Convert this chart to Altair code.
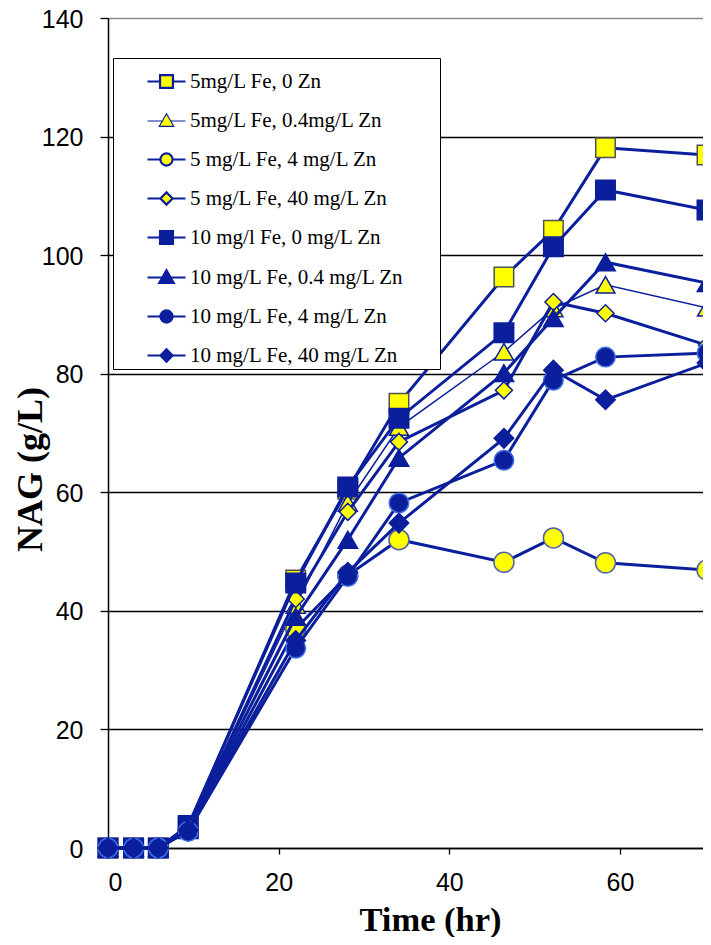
import altair as alt
import pandas as pd

# ---------------- data ----------------
times = [0, 3.0, 5.9, 9.4, 22.0, 28.1, 34.1, 46.4, 52.2, 58.3, 70.2]

names = [
    "5mg/L Fe, 0 Zn",
    "5mg/L Fe, 0.4mg/L Zn",
    "5 mg/L Fe, 4 mg/L Zn",
    "5 mg/L Fe, 40 mg/L Zn",
    "10 mg/l Fe, 0 mg/L Zn",
    "10 mg/L Fe, 0.4 mg/L Zn",
    "10 mg/L Fe, 4 mg/L Zn",
    "10 mg/L Fe, 40 mg/L Zn",
]

s1 = [0, 0, 0, 3.5, 45.2, 60.5, 75.0, 96.3, 104.2, 118.1, 116.9]
s2 = [0, 0, 0, 3.0, 41.0, 58.2, 71.0, 83.7, 91.0, 95.0, 91.1]
s3 = [0, 0, 0, 3.0, 37.0, 46.0, 52.0, 48.2, 52.3, 48.1, 46.9]
s4 = [0, 0, 0, 3.2, 42.0, 56.7, 68.5, 77.2, 92.1, 90.2, 84.8]
s5 = [0, 0, 0, 3.8, 44.7, 60.9, 72.5, 86.9, 101.4, 111.0, 107.6]
s6 = [0, 0, 0, 3.2, 39.0, 52.0, 65.8, 80.1, 89.4, 98.8, 95.3]
s7 = [0, 0, 0, 2.8, 33.7, 45.8, 58.2, 65.4, 78.9, 82.8, 83.5]
s8 = [0, 0, 0, 3.0, 35.0, 46.5, 54.8, 69.1, 80.6, 75.6, 81.8]
series_values = [s1, s2, s3, s4, s5, s6, s7, s8]

x_ticks = [0, 20, 40, 60]
y_ticks = [0, 20, 40, 60, 80, 100, 120, 140]

# ---------------- styles ----------------
NAVY = "#0B1F9C"
YEL = "#FFFF00"
shapes = ["square", "triangle-up", "circle", "diamond",
          "square", "triangle-up", "circle", "diamond"]
fills = [YEL, YEL, YEL, YEL, NAVY, NAVY, NAVY, NAVY]
edges = ["#505050", NAVY, "#5060A8", NAVY, NAVY, NAVY, "#3F6FE6", NAVY]
sizes = [380, 360, 400, 290, 380, 380, 380, 380]
line_w = [3, 1.5, 3, 3, 3, 3, 3, 3]

# legend symbols: line segment + marker (unit coords, scaled by sqrt(size)/2);
# the trailing move-to widens the legend frame to the right
EXT = "M14.0,0"
leg_paths = [
    "M-1,0H-0.34M0.34,0H1M-0.34,-0.34H0.34V0.34H-0.34Z" + EXT,
    "M-1,0H-0.2M0.2,0H1M0,-0.38L0.38,0.28H-0.38Z" + EXT,
    "M-1,0H-0.32M0.32,0H1M-0.32,0A0.32,0.32,0,1,0,0.32,0A0.32,0.32,0,1,0,-0.32,0Z" + EXT,
    "M-1,0H-0.32M0.32,0H1M-0.32,0L0,-0.32L0.32,0L0,0.32Z" + EXT,
    "M-1,0H-0.34M0.34,0H1M-0.34,-0.34H0.34V0.34H-0.34Z" + EXT,
    "M-1,0H-0.2M0.2,0H1M0,-0.38L0.38,0.28H-0.38Z" + EXT,
    "M-1,0H-0.32M0.32,0H1M-0.32,0A0.32,0.32,0,1,0,0.32,0A0.32,0.32,0,1,0,-0.32,0Z" + EXT,
    "M-1,0H-0.32M0.32,0H1M-0.32,0L0,-0.32L0.32,0L0,0.32Z" + EXT,
]
leg_stroke_w = [2.2, 1.2, 2.2, 2.2, 2.2, 2.2, 2.2, 2.2]

rows = []
for i, (nm, vals) in enumerate(zip(names, series_values)):
    for t, v in zip(times, vals):
        rows.append({"idx": i, "series": nm, "time": t, "nag": v})
df = pd.DataFrame(rows)

# plot area: 595 px wide at 8.533 px per hour
x_scale = alt.Scale(domain=[0, 69.73], nice=False, zero=False)
y_scale = alt.Scale(domain=[0, 140], nice=False)

x_axis = alt.Axis(
    values=x_ticks, grid=False, tickSize=6, tickColor="black", domainColor="black",
    tickWidth=1.3, domainWidth=1.5,
    labelFont="Liberation Sans", labelFontSize=25, labelColor="black", labelPadding=16,
    title="Time (hr)", titleFont="Liberation Serif", titleFontSize=34.5,
    titleFontWeight="bold", titleColor="black", titleX=322, titleY=82,
    titleBaseline="alphabetic", titleAlign="center",
)
y_axis = alt.Axis(
    values=y_ticks, grid=True,
    gridColor=alt.condition(alt.datum.value == 140, alt.value("#8a8a8a"), alt.value("black")),
    gridWidth=1.3, tickSize=8, tickColor="black", domainColor="black",
    tickWidth=1.3, domainWidth=1.5,
    labelFont="Liberation Sans", labelFontSize=25, labelColor="black", labelPadding=17,
    labelBaseline="alphabetic", labelOffset=9,
    title="NAG (g/L)", titleFont="Liberation Serif", titleFontSize=36,
    titleFontWeight="bold", titleColor="black", titleX=-67, titleY=451,
    titleBaseline="alphabetic", titleAlign="center", titleAngle=270,
)

X = alt.X("time:Q", scale=x_scale, axis=x_axis)
Y = alt.Y("nag:Q", scale=y_scale, axis=y_axis)

base = alt.Chart(df)
layers = []
for i in range(len(names)):
    sub = base.transform_filter(alt.datum.idx == i)
    line = sub.mark_line(color=NAVY, strokeWidth=line_w[i]).encode(x=X, y=Y)
    pts = sub.mark_point(
        shape=shapes[i], filled=True, fill=fills[i], stroke=edges[i],
        strokeWidth=1.5, size=sizes[i], opacity=1,
    ).encode(x=X, y=Y)
    layers += [line, pts]

legend = alt.Legend(
    title=None, orient="none", legendX=5, legendY=40,
    symbolSize=1444, symbolOffset=30, labelOffset=3,
    labelFont="Liberation Serif", labelFontSize=21, labelColor="black", labelLimit=500,
    padding=3, rowPadding=8, strokeColor="black", fillColor="white",
)

leg_layer = base.transform_filter("false").mark_point(opacity=1, filled=True).encode(
    x=X, y=Y,
    shape=alt.Shape("series:N", scale=alt.Scale(domain=names, range=leg_paths), legend=legend),
    fill=alt.Fill("series:N", scale=alt.Scale(domain=names, range=fills), legend=legend),
    stroke=alt.Stroke("series:N", scale=alt.Scale(domain=names, range=[NAVY] * 8), legend=legend),
    strokeWidth=alt.StrokeWidth("series:N", scale=alt.Scale(type="ordinal", domain=names, range=leg_stroke_w), legend=legend),
)
layers.append(leg_layer)

chart = alt.layer(*layers).properties(
    width=595, height=830,
    autosize=alt.AutoSizeParams(type="none"),
    padding={"left": 100, "top": 10, "right": 0, "bottom": 89},
    background="white",
).configure_view(stroke=None)

chart.save("out.html", embed_options={"renderer": "svg", "actions": False})
